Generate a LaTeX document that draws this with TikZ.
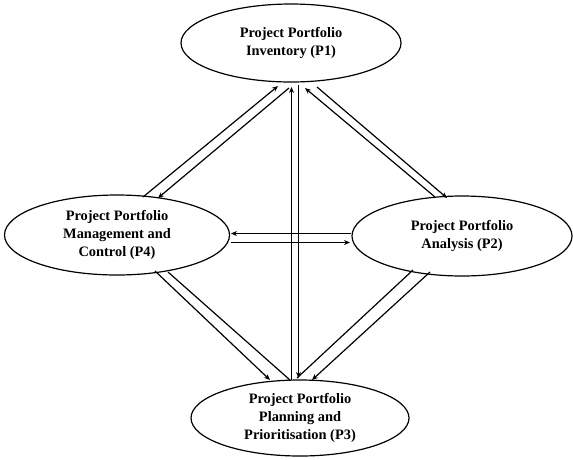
\documentclass[tikz,border=0pt]{standalone}
\usepackage{fontspec}
\setmainfont{Liberation Serif}
\usetikzlibrary{shapes.geometric,arrows.meta,calc}
\begin{document}
\begin{tikzpicture}[x=1pt,y=-1pt,
  proc/.style={draw,ellipse,line width=1.2pt,inner sep=0pt,align=center,
    font=\fontsize{14.4}{18}\selectfont\bfseries},
  link/.style={line width=1.2pt},
  arr/.style={link,-{Stealth[length=6pt,width=5pt]}}]
\useasboundingbox (0,0) rectangle (573,459);
\node[proc,minimum width=220pt,minimum height=78pt] (p1) at (291,43) {Project Portfolio\\Inventory (P1)};
\node[proc,minimum width=225pt,minimum height=80pt] (p4) at (117,235) {Project Portfolio\\Management and\\Control (P4)};
\node[proc,minimum width=220pt,minimum height=80pt] (p2) at (462,236) {Project Portfolio\\Analysis (P2)};
\node[proc,minimum width=218pt,minimum height=76pt] (p3) at (300,418) {Project Portfolio\\Planning and\\Prioritisation (P3)};
% P4 <-> P1
\draw[arr] ($(p4.center)+(26,-38)$) -- ($(p1.center)+(-13,43)$);
\draw[arr] ($(p1.center)+(-2,45)$) -- ($(p4.center)+(41,-37)$);
% P2 <-> P1
\draw[arr] ($(p2.center)+(-27,-39)$) -- ($(p1.center)+(14,45)$);
\draw[arr] ($(p1.center)+(26,44)$) -- ($(p2.center)+(-15,-38)$);
% P3 <-> P1
\draw[arr] ($(p3.center)+(-8.5,-38)$) -- ($(p1.center)+(0.5,44)$);
\draw[arr] ($(p1.center)+(7.5,42)$) -- ($(p3.center)+(-1.5,-40)$);
% P2 <-> P4
\draw[arr] ($(p2.center)+(-111,-2.5)$) -- ($(p4.center)+(114,-1.5)$);
\draw[arr] ($(p4.center)+(114,7.5)$) -- ($(p2.center)+(-112,6.5)$);
% P4 -> P3
\draw[arr] ($(p4.center)+(38,36)$) -- ($(p3.center)+(-30,-38)$);
\draw[link] ($(p4.center)+(51,37)$) -- ($(p3.center)+(-10,-38)$);
% P2 -> P3
\draw[link] ($(p2.center)+(-49,34)$) -- ($(p3.center)+(-3,-40)$);
\draw[arr] ($(p2.center)+(-32,36)$) -- ($(p3.center)+(12,-38)$);
\end{tikzpicture}
\end{document}
